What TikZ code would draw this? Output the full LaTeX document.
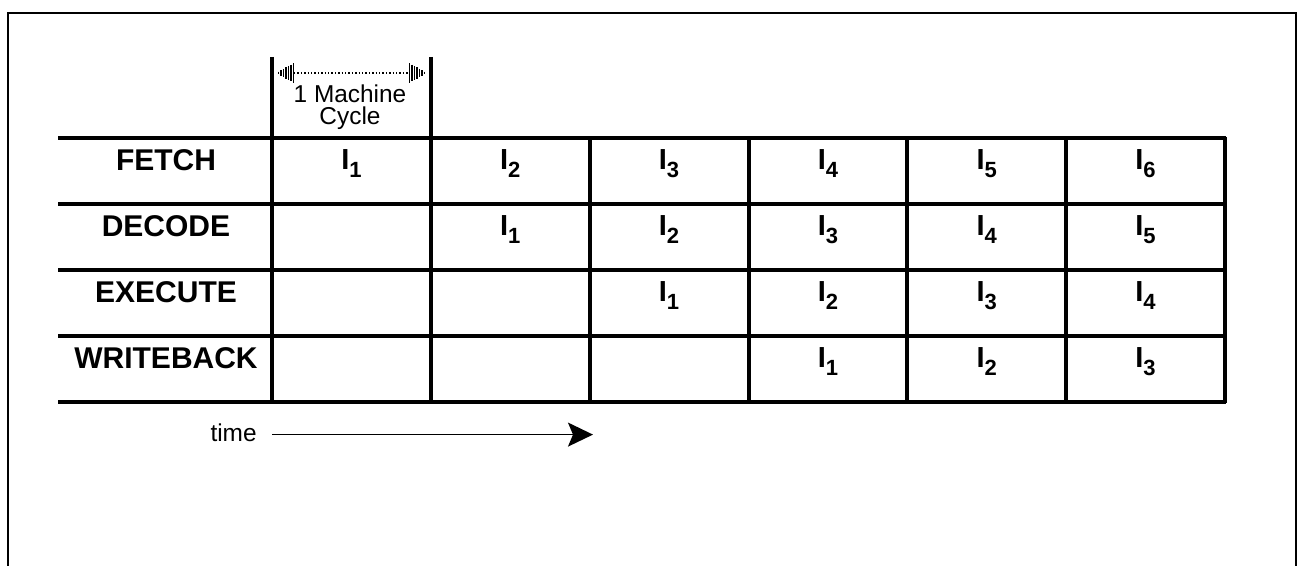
\documentclass[tikz,border=0pt]{standalone}
\usepackage{fontspec}
\setmainfont{Liberation Sans}
\usetikzlibrary{arrows.meta}
\newcommand\Isub[1]{I\raisebox{-4pt}{\fontsize{11}{12}\selectfont #1}}
\begin{document}
\begin{tikzpicture}[x=0.5pt,y=-0.5pt,
  frame/.style={line width=1pt},
  gridline/.style={line width=2pt},
  lab/.style={font=\fontsize{15}{17}\selectfont\bfseries, anchor=base, inner sep=0},
  cell/.style={font=\fontsize{14.5}{16}\selectfont\bfseries, anchor=base, inner sep=0},
  small/.style={font=\fontsize{12.2}{14}\selectfont, anchor=base, inner sep=0},
  hatch/.style={line width=0.55pt}]
\useasboundingbox (0,0) rectangle (1297,566);
% outer frame (open at the bottom)
\draw[frame] (7.5,566) -- (7.5,13) -- (1295.5,13) -- (1295.5,566);
% table grid
\foreach \y in {138,204,270,336,402}
  \draw[gridline] (58,\y) -- (1226,\y);
\foreach \x in {272,430.83,589.67,748.5,907.33,1066.17,1225}
  \draw[gridline] (\x,137) -- (\x,403);
\draw[gridline] (272,57) -- (272,138);
\draw[gridline] (430.83,57) -- (430.83,138);
% row labels
\foreach \r/\name in {0/FETCH,1/DECODE,2/EXECUTE,3/WRITEBACK}
  \node[lab] (L\r) at (166, {171+66*\r}) {\name};
% cells
\foreach \r in {0,...,3}
  \foreach \c in {0,...,5} {
    \pgfmathtruncatemacro\n{\c-\r+1}
    \ifnum\n>0
      \node[cell] (c\r\c) at ({351.4+158.83*\c}, {170+66*\r}) {\Isub{\n}};
    \fi
  }
% machine cycle marker
\node[small] (mc1) at (350,103) {1 Machine};
\node[small] (mc2) at (350,125) {Cycle};
\coordinate (ml) at (294,73);
\coordinate (mr) at (409,73);
\draw[densely dotted, line width=0.7pt] (ml) -- (mr);
\foreach \i in {0,...,7} {
  \draw[hatch] ({276+2.5*\i}, {73-1.4*\i}) -- ({276+2.5*\i}, {73+1.4*\i});
  \draw[hatch] ({427-2.5*\i}, {73-1.4*\i}) -- ({427-2.5*\i}, {73+1.4*\i});
}
% time arrow
\node[small, anchor=base east] (time) at (257,442) {time};
\coordinate (ts) at (272,434.6);
\coordinate (te) at (593,434.6);
\draw[line width=0.75pt, -{Stealth[length=12.5pt,width=12pt,inset=2.5pt]}] (ts) -- (te);
\end{tikzpicture}
\end{document}
